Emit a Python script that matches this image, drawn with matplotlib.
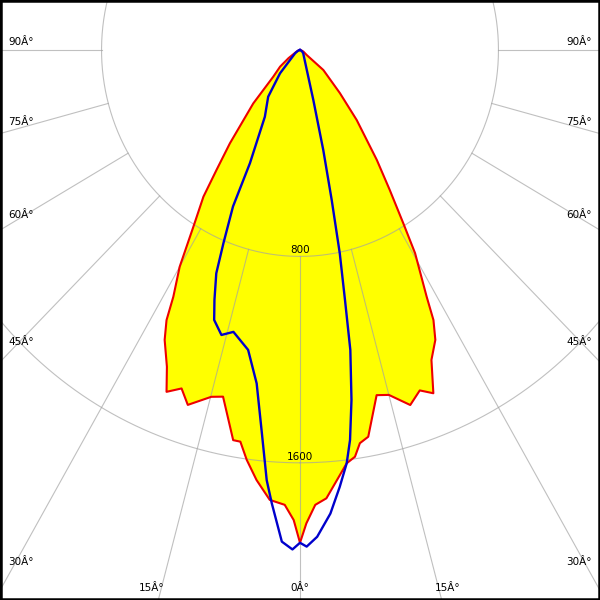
import numpy as np
import matplotlib
matplotlib.use("Agg")
import matplotlib.pyplot as plt
from matplotlib.patches import Rectangle

# ---- data: gamma angle (deg) and luminous intensity (cd) per half-plane ----
red_left_gamma = [0, 0.8, 2.0, 4.0, 6.0, 7.7, 9.0, 10.1, 13.0, 14.9, 18.2, 20.0, 22.1, 23.6,
                  25.9, 27.2, 28.1, 30.0, 32.1, 34.4, 35.9, 38.0, 42.3, 46.2, 51.2, 55.7, 66, 76, 90]
red_left_cd = [1910, 1822, 1764, 1748, 1676, 1603, 1537, 1536, 1379, 1391, 1448, 1396, 1430, 1340,
               1249, 1177, 1084, 970, 809, 689, 574, 459, 280, 149, 103, 56, 15, 5, 0]

red_right_gamma = [0, 0.8, 2.0, 3.5, 5.1, 6.7, 8.0, 9.0, 10.4, 13.0, 15.0, 17.9, 20.1, 22.0, 23.8,
                   25.9, 27.2, 28.1, 30.5, 31.8, 33.7, 36.0, 40.1, 43.9, 50.5, 54.4, 66, 76, 90]
red_right_cd = [1910, 1835, 1764, 1741, 1674, 1613, 1592, 1543, 1524, 1373, 1384, 1446, 1405, 1435, 1313,
                1249, 1177, 1084, 914, 790, 652, 527, 355, 232, 122, 33, 15, 5, 0]

blue_left_gamma = [0, 0.9, 2.2, 3.7, 4.6, 5.9, 7.7, 10.2, 13.8, 16.0, 18.3, 19.6, 21.3, 22.4,
                   24.0, 24.7, 28.7, 35.3, 41.7, 57.7, 71, 90]
blue_left_cd = [1910, 1936, 1907, 1761, 1673, 1494, 1304, 1181, 1125, 1149, 1102, 1028, 929, 810,
                664, 483, 295, 222, 121, 23, 8, 0]

blue_right_gamma = [0, 0.8, 2.1, 3.9, 5.4, 6.7, 7.6, 8.7, 9.9, 10.6, 11.5, 12.4, 13.6, 15.5,
                    17.1, 20.7, 28.9, 46.2, 61, 90]
blue_right_cd = [1910, 1925, 1888, 1801, 1701, 1613, 1525, 1372, 1180, 986, 804, 595, 399, 201,
                 127, 70, 35, 18, 8, 0]

ring_values = [800, 1600]
ring_labels = ["800", "1600"]
spoke_angles = [0, 15, 30, 45, 60, 75, 90]
spoke_labels = ["0Â°", "15Â°", "30Â°", "45Â°", "60Â°", "75Â°", "90Â°"]

# ---- layout ----
W, H, DPI = 600, 600, 100
px_per_cd_y = 0.258            # vertical scale
px_per_cd_x = 0.258 / 1.04     # horizontal scale (diagram is slightly squeezed)
rmax = 2600
cx, cy = 300, 550              # polar centre in figure pixels (from bottom-left)
Rx = rmax * px_per_cd_x
Ry = rmax * px_per_cd_y

fig = plt.figure(figsize=(W / DPI, H / DPI), dpi=DPI)
fig.patch.set_facecolor("white")
ax = fig.add_axes([(cx - Rx) / W, (cy - Ry) / H, 2 * Rx / W, 2 * Ry / H], projection="polar")
ax.set_aspect("auto")
ax.set_theta_zero_location("S")
ax.set_theta_direction(1)
ax.grid(False)
ax.set_xticks([])
ax.set_yticks([])
ax.spines["polar"].set_visible(False)
ax.set_facecolor("none")

def half_planes(lg, lc, rg, rc):
    th = np.concatenate([-np.radians(lg)[::-1], np.radians(rg)])
    r = np.concatenate([np.array(lc)[::-1], np.array(rc)])
    return th, r

th_red, r_red = half_planes(red_left_gamma, red_left_cd, red_right_gamma, red_right_cd)
th_blue, r_blue = half_planes(blue_left_gamma, blue_left_cd, blue_right_gamma, blue_right_cd)

ax.fill(th_red, r_red, color="#ffff00", zorder=1, lw=0)

grid_kw = dict(color="#a2a2a2", alpha=0.68, lw=0.8, zorder=1.5)
circ = np.linspace(0, 2 * np.pi, 1441)
for v in ring_values:
    ax.plot(circ, np.full_like(circ, v), **grid_kw)
for a in spoke_angles:
    for s in ([1] if a == 0 else [-1, 1]):
        t = np.radians(s * a)
        ax.plot([t, t], [ring_values[0], rmax], **grid_kw)

ax.plot(th_red, r_red, color="#ee0000", lw=1.5, zorder=3)
ax.plot(th_blue, r_blue, color="#0000cc", lw=1.7, zorder=4)
ax.set_ylim(0, rmax)

font = dict(family="DejaVu Sans", size=7.5, color="black")

for v, lab in zip(ring_values, ring_labels):
    ax.annotate(lab, xy=(0, v), xytext=(0, 6), textcoords="offset pixels",
                ha="center", va="center", zorder=5, **font)

# angle labels along the picture border
for a, lab in zip(spoke_angles, spoke_labels):
    g = np.radians(a)
    if a >= 30:
        y = cy - (cx / np.tan(g) if a < 90 else 0) + 8
        fig.text(8 / W, y / H, lab, ha="left", va="center", **font)
        fig.text((W - 8) / W, y / H, lab, ha="right", va="center", **font)
    else:
        dx = cy * np.tan(g)
        xs = [cx] if a == 0 else [cx - dx - 1, cx + dx]
        for x in xs:
            fig.text(x / W, 12 / H, lab, ha="center", va="center", **font)

fig.patches.append(Rectangle((0, 0), 1, 1, transform=fig.transFigure, fill=False,
                             edgecolor="black", linewidth=4.5 * 72 / DPI, clip_on=False, zorder=10))

fig.savefig("out.png", dpi=DPI)
